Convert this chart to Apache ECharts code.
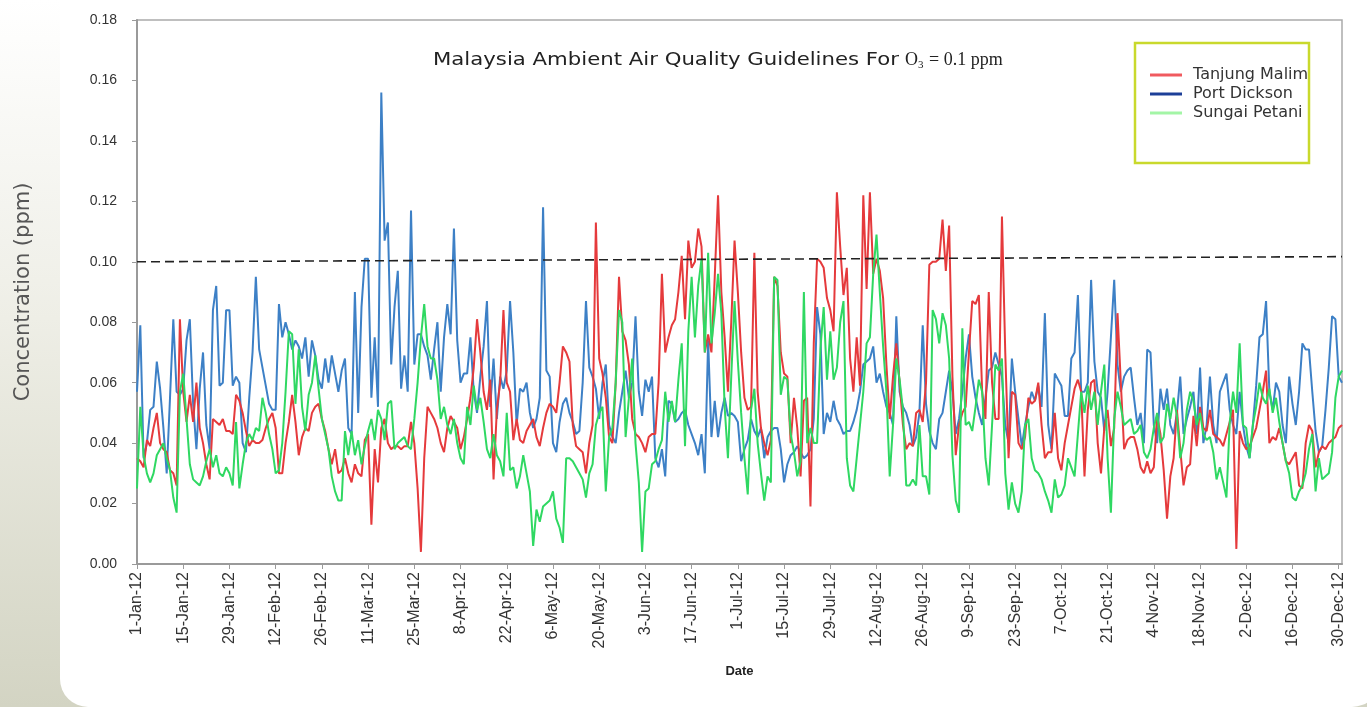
<!DOCTYPE html>
<html>
<head>
<meta charset="utf-8">
<script src="https://cdn.jsdelivr.net/npm/echarts@6/dist/echarts.min.js"></script>
<style>
html,body{margin:0;padding:0;width:1367px;height:707px;overflow:hidden;background:#fff;}
#chart{width:1367px;height:707px;}
</style>
</head>
<body>
<div id="chart"></div>
<script>
// Daily O3 concentration (ppm), 1-Jan-2012 .. 31-Dec-2012
const tanjungMalim = [
0.035,0.034,0.032,0.041,0.039,0.045,0.050,0.040,0.038,0.037,
0.031,0.030,0.026,0.081,0.057,0.047,0.056,0.047,0.060,0.045,
0.040,0.033,0.028,0.048,0.047,0.046,0.048,0.044,0.044,0.043,
0.056,0.054,0.050,0.044,0.039,0.041,0.040,0.040,0.041,0.045,
0.048,0.050,0.045,0.030,0.030,0.040,0.047,0.056,0.047,0.036,
0.042,0.045,0.044,0.050,0.052,0.053,0.048,0.044,0.038,0.033,
0.038,0.030,0.031,0.035,0.030,0.027,0.033,0.030,0.029,0.041,
0.043,0.013,0.038,0.027,0.045,0.048,0.040,0.038,0.039,0.039,
0.038,0.039,0.039,0.047,0.040,0.025,0.004,0.035,0.052,0.050,
0.048,0.045,0.040,0.037,0.045,0.049,0.047,0.045,0.038,0.042,
0.048,0.055,0.065,0.081,0.070,0.057,0.051,0.061,0.028,0.051,
0.060,0.084,0.060,0.057,0.041,0.048,0.041,0.040,0.044,0.046,
0.048,0.042,0.039,0.045,0.050,0.053,0.052,0.050,0.060,0.072,
0.070,0.067,0.046,0.039,0.038,0.037,0.030,0.040,0.046,0.113,
0.068,0.063,0.055,0.042,0.040,0.060,0.095,0.077,0.074,0.066,
0.048,0.043,0.042,0.040,0.037,0.042,0.043,0.043,0.060,0.096,
0.070,0.075,0.079,0.081,0.090,0.102,0.081,0.107,0.098,0.100,
0.111,0.105,0.070,0.076,0.070,0.095,0.122,0.090,0.075,0.057,
0.080,0.107,0.090,0.070,0.055,0.051,0.052,0.103,0.057,0.045,
0.040,0.036,0.041,0.095,0.092,0.070,0.063,0.062,0.040,0.055,
0.045,0.029,0.054,0.055,0.019,0.073,0.101,0.100,0.098,0.088,
0.084,0.077,0.123,0.105,0.089,0.098,0.068,0.057,0.075,0.059,
0.122,0.091,0.123,0.096,0.101,0.097,0.088,0.066,0.048,0.062,
0.073,0.060,0.046,0.038,0.040,0.039,0.050,0.051,0.047,0.060,
0.099,0.100,0.100,0.101,0.114,0.097,0.112,0.062,0.036,0.046,
0.050,0.052,0.070,0.087,0.086,0.089,0.057,0.048,0.090,0.060,
0.048,0.048,0.115,0.070,0.035,0.057,0.056,0.040,0.038,0.042,
0.055,0.053,0.054,0.060,0.046,0.035,0.037,0.037,0.050,0.035,
0.031,0.040,0.046,0.052,0.058,0.061,0.057,0.029,0.051,0.060,
0.061,0.040,0.030,0.045,0.051,0.039,0.045,0.083,0.060,0.038,
0.041,0.042,0.042,0.038,0.032,0.030,0.034,0.030,0.032,0.049,
0.043,0.031,0.015,0.029,0.035,0.051,0.038,0.026,0.032,0.033,
0.049,0.039,0.052,0.045,0.044,0.051,0.043,0.042,0.041,0.039,
0.043,0.047,0.051,0.005,0.044,0.040,0.038,0.039,0.042,0.045,
0.051,0.057,0.064,0.040,0.042,0.041,0.045,0.040,0.034,0.033,
0.035,0.037,0.026,0.025,0.040,0.046,0.044,0.032,0.037,0.039,
0.038,0.040,0.041,0.042,0.045,0.046
];
const portDickson = [
0.057,0.079,0.035,0.040,0.051,0.052,0.067,0.058,0.045,0.030,
0.055,0.081,0.057,0.056,0.058,0.074,0.081,0.053,0.038,0.058,
0.070,0.046,0.038,0.084,0.092,0.059,0.060,0.084,0.084,0.059,
0.062,0.060,0.040,0.037,0.055,0.070,0.095,0.071,0.065,0.059,
0.053,0.051,0.051,0.086,0.075,0.080,0.076,0.071,0.074,0.072,
0.068,0.075,0.062,0.074,0.069,0.061,0.058,0.068,0.060,0.069,
0.063,0.057,0.064,0.068,0.045,0.043,0.090,0.050,0.085,0.101,
0.101,0.055,0.075,0.052,0.156,0.107,0.113,0.066,0.085,0.097,
0.058,0.069,0.057,0.117,0.066,0.076,0.076,0.072,0.069,0.061,
0.071,0.080,0.057,0.075,0.086,0.076,0.111,0.074,0.060,0.063,
0.063,0.075,0.057,0.050,0.062,0.072,0.087,0.052,0.068,0.048,
0.062,0.058,0.064,0.087,0.070,0.046,0.058,0.057,0.060,0.050,
0.045,0.048,0.055,0.118,0.064,0.062,0.040,0.037,0.047,0.053,
0.055,0.050,0.047,0.043,0.044,0.060,0.087,0.065,0.062,0.058,
0.048,0.060,0.066,0.046,0.042,0.040,0.050,0.057,0.064,0.055,
0.060,0.082,0.057,0.049,0.061,0.057,0.062,0.035,0.032,0.038,
0.029,0.054,0.053,0.047,0.048,0.050,0.051,0.046,0.043,0.040,
0.036,0.043,0.030,0.074,0.042,0.054,0.042,0.050,0.055,0.049,
0.050,0.049,0.047,0.034,0.038,0.041,0.048,0.044,0.042,0.045,
0.035,0.042,0.044,0.045,0.045,0.038,0.027,0.033,0.036,0.037,
0.039,0.037,0.035,0.036,0.038,0.048,0.085,0.076,0.043,0.050,
0.047,0.054,0.048,0.046,0.043,0.044,0.044,0.047,0.051,0.057,
0.066,0.067,0.068,0.072,0.060,0.063,0.057,0.052,0.050,0.046,
0.082,0.057,0.052,0.050,0.046,0.039,0.042,0.050,0.079,0.053,
0.044,0.040,0.038,0.048,0.050,0.057,0.064,0.057,0.043,0.048,
0.057,0.068,0.076,0.062,0.055,0.050,0.046,0.055,0.064,0.065,
0.070,0.066,0.062,0.046,0.040,0.068,0.057,0.048,0.039,0.046,
0.052,0.057,0.054,0.059,0.052,0.083,0.046,0.038,0.063,0.061,
0.059,0.049,0.049,0.068,0.070,0.089,0.057,0.057,0.060,0.094,
0.067,0.057,0.055,0.044,0.057,0.075,0.094,0.066,0.057,0.062,
0.064,0.065,0.055,0.046,0.050,0.040,0.071,0.070,0.046,0.040,
0.058,0.051,0.058,0.046,0.043,0.050,0.062,0.043,0.048,0.052,
0.057,0.043,0.065,0.040,0.046,0.062,0.046,0.040,0.057,0.060,
0.063,0.051,0.046,0.043,0.057,0.046,0.039,0.035,0.046,0.059,
0.075,0.076,0.087,0.057,0.051,0.060,0.057,0.046,0.040,0.062,
0.053,0.046,0.057,0.073,0.071,0.071,0.057,0.044,0.037,0.039,
0.051,0.065,0.082,0.081,0.062,0.060
];
const sungaiPetani = [
0.025,0.052,0.036,0.030,0.027,0.030,0.036,0.038,0.040,0.035,
0.031,0.022,0.017,0.057,0.063,0.048,0.033,0.028,0.027,0.026,
0.029,0.034,0.038,0.032,0.036,0.030,0.029,0.032,0.030,0.026,
0.047,0.025,0.033,0.040,0.043,0.041,0.045,0.044,0.055,0.050,
0.043,0.038,0.030,0.031,0.040,0.057,0.077,0.076,0.053,0.071,
0.052,0.044,0.056,0.060,0.069,0.058,0.048,0.043,0.038,0.029,
0.024,0.021,0.021,0.044,0.036,0.044,0.036,0.041,0.033,0.039,
0.044,0.048,0.041,0.051,0.048,0.041,0.053,0.054,0.038,0.040,
0.041,0.042,0.039,0.038,0.048,0.060,0.075,0.086,0.072,0.068,
0.068,0.061,0.048,0.052,0.046,0.043,0.048,0.040,0.035,0.033,
0.052,0.046,0.059,0.051,0.055,0.047,0.038,0.035,0.043,0.036,
0.034,0.029,0.050,0.031,0.032,0.025,0.029,0.036,0.030,0.024,
0.006,0.018,0.014,0.019,0.020,0.021,0.024,0.015,0.012,0.007,
0.035,0.035,0.034,0.032,0.030,0.028,0.022,0.030,0.033,0.046,
0.050,0.052,0.024,0.042,0.045,0.060,0.084,0.080,0.042,0.055,
0.068,0.040,0.027,0.004,0.024,0.025,0.033,0.034,0.038,0.041,
0.057,0.047,0.054,0.047,0.061,0.073,0.039,0.077,0.095,0.075,
0.092,0.101,0.070,0.103,0.073,0.083,0.096,0.083,0.052,0.035,
0.062,0.087,0.067,0.050,0.035,0.023,0.051,0.058,0.040,0.030,
0.021,0.029,0.027,0.095,0.094,0.056,0.062,0.061,0.043,0.037,
0.029,0.034,0.090,0.040,0.045,0.040,0.040,0.071,0.085,0.061,
0.077,0.061,0.065,0.080,0.087,0.035,0.026,0.024,0.035,0.046,
0.057,0.073,0.075,0.096,0.109,0.090,0.072,0.057,0.029,0.046,
0.068,0.061,0.051,0.026,0.026,0.028,0.026,0.046,0.029,0.029,
0.023,0.084,0.081,0.073,0.083,0.079,0.068,0.036,0.021,0.017,
0.078,0.046,0.047,0.044,0.052,0.061,0.057,0.035,0.026,0.046,
0.066,0.064,0.068,0.030,0.018,0.027,0.020,0.017,0.024,0.046,
0.048,0.035,0.031,0.030,0.028,0.024,0.021,0.017,0.028,0.022,
0.023,0.026,0.035,0.032,0.029,0.043,0.057,0.050,0.059,0.051,
0.057,0.046,0.057,0.066,0.035,0.017,0.048,0.057,0.052,0.046,
0.047,0.048,0.043,0.044,0.046,0.037,0.035,0.038,0.045,0.050,
0.040,0.042,0.053,0.048,0.055,0.049,0.035,0.040,0.051,0.057,
0.054,0.046,0.050,0.043,0.041,0.042,0.037,0.028,0.032,0.027,
0.022,0.047,0.057,0.050,0.073,0.046,0.045,0.035,0.046,0.052,
0.060,0.055,0.053,0.058,0.050,0.055,0.047,0.040,0.034,0.030,
0.022,0.021,0.024,0.026,0.030,0.038,0.043,0.024,0.035,0.028,
0.029,0.030,0.037,0.055,0.062,0.064
];
// Guideline (dashed) line endpoints as drawn in the source
const guidelineStart = 0.100;
const guidelineEnd = 0.1017;
const seriesNames = ['Tanjung Malim', 'Port Dickson', 'Sungai Petani'];
const titleSans = 'Malaysia Ambient Air Quality Guidelines For';
const titleSerif = '{b|O}{s|3}{b| = 0.1 ppm}';

// Category labels: one per day of 2012, shown every 14 days (1-Jan-12, 15-Jan-12, ... 30-Dec-12)
const monthNames = ['Jan','Feb','Mar','Apr','May','Jun','Jul','Aug','Sep','Oct','Nov','Dec'];
const categories = [];
for (let i = 0; i < tanjungMalim.length; i++) {
  const d = new Date(Date.UTC(2012, 0, 1 + i));
  categories.push(d.getUTCDate() + '-' + monthNames[d.getUTCMonth()] + '-12');
}

const W = 1367, H = 707;
const chart = echarts.init(document.getElementById('chart'), null, {renderer: 'canvas', width: W, height: H});

const sansTitle = 'DejaVu Sans';
const axisFont = 'Liberation Sans';

const option = {
  animation: false,
  backgroundColor: 'transparent',
  graphic: [
    {
      type: 'rect', z: -10, silent: true,
      shape: {x: 0, y: 0, width: W, height: H},
      style: {fill: new echarts.graphic.LinearGradient(0, 0, 0, 1, [
        {offset: 0, color: '#ffffff'},
        {offset: 0.45, color: '#eeeee6'},
        {offset: 1, color: '#d3d4c3'}
      ])}
    },
    {
      type: 'rect', z: -9, silent: true,
      shape: {x: 60, y: -40, width: 1320, height: 747, r: 28},
      style: {fill: '#ffffff'}
    },
    {
      type: 'rect', z: 1, silent: true,
      shape: {x: 1135, y: 43, width: 174, height: 120},
      style: {fill: '#ffffff', stroke: '#c9d92c', lineWidth: 2.5}
    },
    {
      type: 'text', z: 5, silent: true,
      x: 433, y: 60, scaleX: 1.18, scaleY: 1,
      style: {
        text: titleSans,
        fontFamily: sansTitle, fontSize: 18, fill: '#222',
        verticalAlign: 'middle', align: 'left'
      }
    },
    {
      type: 'text', z: 5, silent: true,
      x: 905, y: 60,
      style: {
        text: titleSerif,
        verticalAlign: 'middle', align: 'left',
        rich: {
          b: {fontFamily: 'Liberation Serif', fontSize: 18, fill: '#222', lineHeight: 22},
          s: {fontFamily: 'Liberation Serif', fontSize: 11, fill: '#222', lineHeight: 22, verticalAlign: 'bottom', padding: [9, 1, 0, 0]}
        }
      }
    }
  ],
  legend: {
    orient: 'vertical',
    left: 1150, top: 67,
    padding: 0,
    itemWidth: 32, itemHeight: 3, itemGap: 3,
    icon: 'rect',
    selectedMode: false,
    textStyle: {fontFamily: sansTitle, fontSize: 16, color: '#333', lineHeight: 16, padding: [0, 0, 0, 6]},
    data: [
      {name: seriesNames[0], itemStyle: {color: '#f05a5f'}},
      {name: seriesNames[1], itemStyle: {color: '#1d3f98'}},
      {name: seriesNames[2], itemStyle: {color: '#a3f5a6'}}
    ],
    z: 5
  },
  grid: {
    left: 137, right: 25, top: 20, bottom: 143,
    show: true, borderColor: '#aaaaaa', borderWidth: 1.5, backgroundColor: 'transparent'
  },
  xAxis: {
    type: 'category',
    data: categories,
    boundaryGap: false,
    name: 'Date',
    nameLocation: 'middle',
    nameGap: 101,
    nameTextStyle: {fontFamily: axisFont, fontSize: 13, fontWeight: 'bold', color: '#222'},
    axisLine: {show: true, lineStyle: {color: '#9a9a9a', width: 2}},
    axisTick: {show: true, interval: 13, length: 5, lineStyle: {color: '#9a9a9a', width: 1}},
    axisLabel: {interval: 13, rotate: 90, margin: 8, fontFamily: axisFont, fontSize: 16, color: '#333'},
    splitLine: {show: false}
  },
  yAxis: {
    type: 'value',
    min: 0, max: 0.18, interval: 0.02,
    name: 'Concentration (ppm)',
    nameLocation: 'middle',
    nameGap: 103,
    nameRotate: 90,
    nameTextStyle: {fontFamily: sansTitle, fontSize: 21, color: '#555'},
    axisLine: {show: true, lineStyle: {color: '#9a9a9a', width: 2}},
    axisTick: {show: true, length: 5, lineStyle: {color: '#9a9a9a', width: 1}},
    axisLabel: {margin: 20, fontFamily: axisFont, fontSize: 14, color: '#333', formatter: v => v.toFixed(2)},
    splitLine: {show: false}
  },
  series: [
    {
      name: seriesNames[1], type: 'line', data: portDickson,
      showSymbol: false, symbol: 'none',
      lineStyle: {color: '#3d80c6', width: 2},
      itemStyle: {color: '#3d80c6'},
      z: 2,
      markLine: {
        silent: true, symbol: ['none', 'none'],
        label: {show: false},
        lineStyle: {color: '#222', type: [9, 5], width: 1.6},
        data: [[
          {coord: [categories[0], guidelineStart]},
          {coord: [categories[categories.length - 1], guidelineEnd]}
        ]]
      }
    },
    {
      name: seriesNames[0], type: 'line', data: tanjungMalim,
      showSymbol: false, symbol: 'none',
      lineStyle: {color: '#e53a3c', width: 2},
      itemStyle: {color: '#e53a3c'},
      z: 3
    },
    {
      name: seriesNames[2], type: 'line', data: sungaiPetani,
      showSymbol: false, symbol: 'none',
      lineStyle: {color: '#2fd862', width: 2},
      itemStyle: {color: '#2fd862'},
      z: 3
    }
  ]
};
chart.setOption(option);
</script>
</body>
</html>
